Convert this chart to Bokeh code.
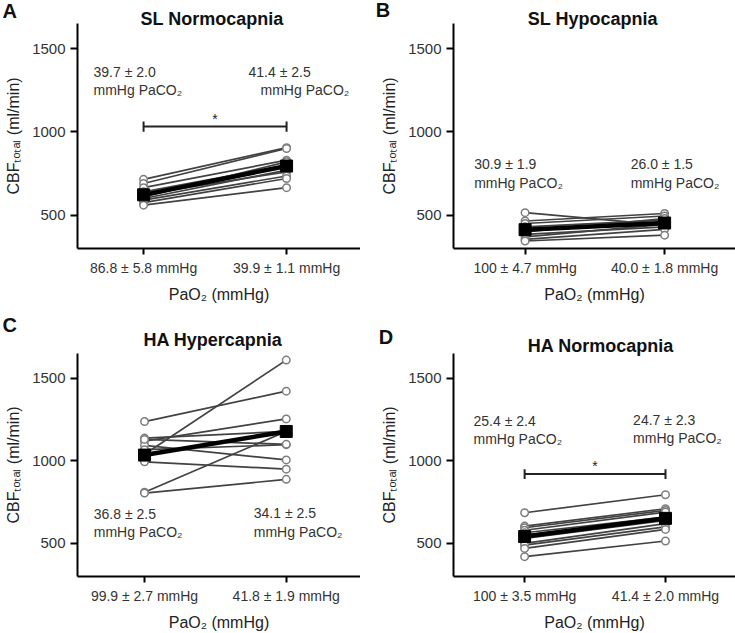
from bokeh.plotting import figure
from bokeh.layouts import column, row
from bokeh.models import Label, FixedTicker, Range1d, Title
from bokeh.embed import file_html
from bokeh.resources import INLINE

FONT = "Liberation Sans"

# ---------------- data ----------------
panel_letters = ["A", "B", "C", "D"]
conditions = ["SL Normocapnia", "SL Hypocapnia", "HA Hypercapnia", "HA Normocapnia"]

pao2_labels_A = ["86.8 ± 5.8 mmHg", "39.9 ± 1.1 mmHg"]
pao2_labels_B = ["100 ± 4.7 mmHg", "40.0 ± 1.8 mmHg"]
pao2_labels_C = ["99.9 ± 2.7 mmHg", "41.8 ± 1.9 mmHg"]
pao2_labels_D = ["100 ± 3.5 mmHg", "41.4 ± 2.0 mmHg"]

paco2_A = ["39.7 ± 2.0", "41.4 ± 2.5"]
paco2_B = ["30.9 ± 1.9", "26.0 ± 1.5"]
paco2_C = ["36.8 ± 2.5", "34.1 ± 2.5"]
paco2_D = ["25.4 ± 2.4", "24.7 ± 2.3"]
paco2_unit = "mmHg PaCO₂"

# individual subjects: CBF total (ml/min) at the two PaO2 levels
A_pre = [715, 690, 665, 640, 625, 610, 600, 590, 575, 560]
A_post = [905, 900, 830, 800, 760, 820, 770, 735, 720, 665]
A_mean = [622, 795]

B_pre = [515, 465, 450, 430, 415, 400, 385, 370, 355, 345]
B_post = [440, 510, 495, 470, 455, 480, 430, 445, 415, 380]
B_mean = [413, 453]

C_pre = [1238, 1138, 1120, 1094, 1068, 1040, 994, 810, 805, 1130]
C_post = [1422, 1178, 1254, 1006, 1098, 1610, 950, 1178, 888, 1100]
C_mean = [1035, 1178]

D_pre = [686, 605, 595, 580, 565, 550, 530, 500, 490, 470, 420]
D_post = [795, 710, 700, 690, 660, 650, 640, 620, 600, 585, 515]
D_mean = [542, 652]

y_ticks = [500, 1000, 1500]
x_levels = [1, 2]

Y_LO, Y_HI = 300, 1650


def make_panel(letter, title, pre, post, mean, xlabels, paco2, cfg):
    p = figure(width=cfg["w"], height=cfg["h"],
               x_range=Range1d(*cfg["xr"]), y_range=Range1d(Y_LO, Y_HI),
               output_backend="svg", toolbar_location=None,
               min_border_left=cfg["bl"], min_border_right=cfg["br"],
               min_border_top=cfg["bt"], min_border_bottom=cfg["bb"])
    p.outline_line_color = None
    p.grid.visible = False

    xs = [list(x_levels) for _ in pre]
    ys = [[a, b] for a, b in zip(pre, post)]
    p.multi_line(xs, ys, line_color="#424242", line_width=1.7)
    p.scatter([x_levels[0]] * len(pre) + [x_levels[1]] * len(post),
              list(pre) + list(post), marker="circle", size=7.5,
              line_color="#7d7d7d", fill_color="white", line_width=1.5)
    p.line(x_levels, mean, line_color="black", line_width=4.5)
    p.scatter(x_levels, mean, marker="square", size=12,
              fill_color="black", line_color="black")

    # axes
    for ax in (p.xaxis[0], p.yaxis[0]):
        ax.axis_line_color = "black"
        ax.axis_line_width = 2
        ax.major_tick_line_color = "black"
        ax.major_tick_line_width = 2
        ax.major_tick_in = 0
        ax.minor_tick_line_color = None
        ax.major_label_text_font = FONT
        ax.major_label_text_color = "#333333"
        ax.axis_label_text_font = FONT
        ax.axis_label_text_font_style = "normal"
        ax.axis_label_text_font_size = "16px"
        ax.axis_label_text_color = "#222222"
    p.xaxis.ticker = FixedTicker(ticks=x_levels)
    p.xaxis.major_label_overrides = {x_levels[0]: xlabels[0], x_levels[1]: xlabels[1]}
    p.xaxis.major_label_text_font_size = "14px"
    p.xaxis.major_tick_out = 6
    p.xaxis.major_label_standoff = 5
    p.xaxis.axis_label = "PaO₂ (mmHg)"
    p.xaxis.axis_label_standoff = 7
    p.yaxis.ticker = FixedTicker(ticks=y_ticks)
    p.yaxis.major_label_text_font_size = "15px"
    p.yaxis.major_tick_out = 7
    p.yaxis.major_label_standoff = 5
    p.yaxis.axis_label = "CBFₜₒₜₐₗ (ml/min)"
    p.yaxis.axis_label_standoff = 7

    # PaCO2 annotations
    for (x, y), txt in zip(cfg["cap_pos"], [paco2[0], paco2_unit, paco2[1], paco2_unit]):
        p.add_layout(Label(x=x, y=y, text=txt, text_font=FONT, text_font_size="14px",
                           text_color="#333333", text_align="left", text_baseline="middle"))

    # significance bracket
    if cfg.get("bracket"):
        yb, ylo, yhi, ystar = cfg["bracket"]
        p.segment(x0=[x_levels[0], x_levels[0], x_levels[1]], y0=[yb, ylo, ylo],
                  x1=[x_levels[1], x_levels[0], x_levels[1]], y1=[yb, yhi, yhi],
                  line_color="#222222", line_width=2)
        p.add_layout(Label(x=sum(x_levels) / 2, y=ystar, text="*", text_font=FONT,
                           text_font_size="14px", text_color="#222222",
                           text_align="center", text_baseline="middle"))

    # optional gap between frame and title (stacked panels: first added = nearest the frame)
    if cfg.get("gap") is not None:
        p.add_layout(Title(text=" ", text_font=FONT, text_font_size="1px",
                           standoff=cfg["gap"]), "above")
    t_valign, t_standoff, t_offset = cfg["title"]
    p.add_layout(Title(text=title, text_font=FONT, text_font_size="18px", text_font_style="bold",
                       text_color="#111111", align="left", vertical_align=t_valign,
                       standoff=t_standoff, offset=t_offset), "above")
    l_standoff, l_offset = cfg["letter"]
    p.add_layout(Title(text=letter, text_font=FONT, text_font_size="20px", text_font_style="bold",
                       text_color="#111111", align="left", vertical_align="middle",
                       standoff=l_standoff, offset=l_offset), "above")
    return p


cfgA = dict(w=360, h=306, bl=77, br=0, bt=23, bb=58, xr=(0.538, 2.517),
            cap_pos=[(0.65, 1360), (0.65, 1250), (1.734, 1360), (1.818, 1250)],
            bracket=(1032, 1000, 1062, 1080),
            title=("middle", -13.3, 63), letter=(-15.8, -75))
cfgB = dict(w=375, h=306, bl=93, br=0, bt=23, bb=58, xr=(0.487, 2.508),
            cap_pos=[(0.635, 810), (0.635, 694), (1.757, 810), (1.757, 694)],
            bracket=None,
            title=("middle", -13.3, 74.3), letter=(-14.0, -77.7))
cfgC = dict(w=360, h=327, bl=77, br=0, bt=47, bb=56, xr=(0.527, 2.524),
            cap_pos=[(0.642, 679), (0.642, 567), (1.771, 682), (1.771, 570)],
            bracket=None, gap=6.2,
            title=("bottom", -10.0, 66), letter=(-9.0, -75))
cfgD = dict(w=375, h=327, bl=93, br=0, bt=47, bb=56, xr=(0.495, 2.497),
            cap_pos=[(0.637, 1240), (0.637, 1130), (1.770, 1250), (1.770, 1136)],
            bracket=(920, 890, 950, 968),
            title=("middle", -6.7, 74.3), letter=(-21.0, -74.7))

pA = make_panel(panel_letters[0], conditions[0], A_pre, A_post, A_mean, pao2_labels_A, paco2_A, cfgA)
pB = make_panel(panel_letters[1], conditions[1], B_pre, B_post, B_mean, pao2_labels_B, paco2_B, cfgB)
pC = make_panel(panel_letters[2], conditions[2], C_pre, C_post, C_mean, pao2_labels_C, paco2_C, cfgC)
pD = make_panel(panel_letters[3], conditions[3], D_pre, D_post, D_mean, pao2_labels_D, paco2_D, cfgD)

layout = column(row(pA, pB), row(pC, pD))
open("out.html", "w").write(file_html(layout, INLINE))
